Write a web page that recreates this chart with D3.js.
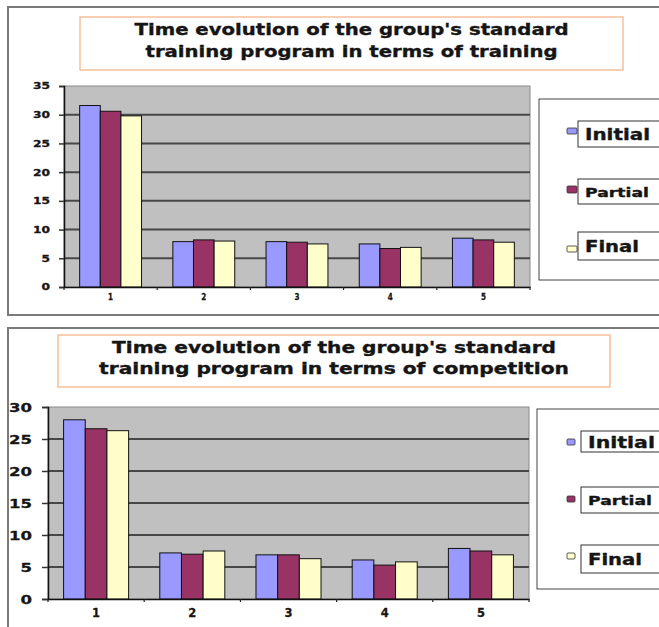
<!DOCTYPE html>
<html>
<head>
<meta charset="utf-8">
<script src="https://cdn.jsdelivr.net/npm/d3@7"></script>
<style>
  html, body { margin: 0; padding: 0; background: #ffffff; overflow: hidden; }
  svg { display: block; }
  text { font-family: "DejaVu Sans", Verdana, sans-serif; font-weight: bold; fill: #151515; }
</style>
</head>
<body>
<svg id="chart" width="659" height="627"></svg>
<script>
// ---------- DATA ----------
const categories = ["1", "2", "3", "4", "5"];
const seriesNames = ["Initial", "Partial", "Final"];
const seriesColors = ["#9999ff", "#993366", "#ffffcc"];

const trainingTitle = ["Time evolution of the group's standard", "training program in terms of training"];
const trainingInitial = [31.6, 7.9, 7.9, 7.5, 8.5];
const trainingPartial = [30.6, 8.2, 7.8, 6.7, 8.2];
const trainingFinal   = [29.8, 8.0, 7.5, 6.9, 7.8];
const trainingTicks   = [0, 5, 10, 15, 20, 25, 30, 35];

const competitionTitle = ["Time evolution of the group's standard", "training program in terms of competition"];
const competitionInitial = [28.0, 7.2, 6.9, 6.1, 7.9];
const competitionPartial = [26.6, 7.0, 6.9, 5.3, 7.5];
const competitionFinal   = [26.3, 7.5, 6.3, 5.8, 6.9];
const competitionTicks   = [0, 5, 10, 15, 20, 25, 30];

// ---------- LAYOUT ----------
const svg = d3.select("#chart");

function fit(sel, w) {
  sel.attr("textLength", w).attr("lengthAdjust", "spacingAndGlyphs");
}

function drawChart(cfg, values, ticks, titleLines) {
  const g = svg.append("g");

  // outer frame
  g.append("rect").attr("x", cfg.frame.x).attr("y", cfg.frame.y)
    .attr("width", cfg.frame.w).attr("height", cfg.frame.h)
    .attr("fill", "#ffffff").attr("stroke", "#7a7a7a").attr("stroke-width", 2);

  // title box
  g.append("rect").attr("x", cfg.titleBox.x).attr("y", cfg.titleBox.y)
    .attr("width", cfg.titleBox.w).attr("height", cfg.titleBox.h)
    .attr("fill", "#ffffff").attr("stroke", "#f7bf98").attr("stroke-width", 1.5);
  titleLines.forEach((t, i) => {
    const tl = cfg.titleLines[i];
    g.append("text").attr("x", cfg.titleBox.x + cfg.titleBox.w / 2)
      .attr("y", tl.base).attr("text-anchor", "middle")
      .attr("font-size", cfg.titleFont)
      .attr("stroke", "#151515").attr("stroke-width", 0.35)
      .text(t).call(fit, tl.w);
  });

  const p = cfg.plot;
  const yMax = ticks[ticks.length - 1];
  const y = d3.scaleLinear().domain([0, yMax]).range([p.y + p.h, p.y]);
  const x0 = d3.scaleBand().domain(categories).range([p.x, p.x + p.w]).padding(0);
  const bw = x0.bandwidth();
  const x1 = d3.scaleBand().domain(seriesNames)
    .range([bw * cfg.groupPad, bw * (1 - cfg.groupPad)]).padding(0);

  // plot background
  g.append("rect").attr("x", p.x).attr("y", p.y).attr("width", p.w).attr("height", p.h)
    .attr("fill", "#c0c0c0").attr("stroke", "#8a8a8a").attr("stroke-width", 1);

  // gridlines
  g.append("g").selectAll("line").data(ticks.filter(t => t > 0 && t < yMax)).join("line")
    .attr("x1", p.x).attr("x2", p.x + p.w)
    .attr("y1", d => y(d)).attr("y2", d => y(d))
    .attr("stroke", "#474747").attr("stroke-width", 2);

  // bars
  const rows = categories.map((c, i) => ({ c, vals: seriesNames.map((s, k) => ({ s, k, v: values[k][i] })) }));
  g.append("g").selectAll("g").data(rows).join("g")
    .attr("transform", d => `translate(${x0(d.c)},0)`)
    .selectAll("rect").data(d => d.vals).join("rect")
    .attr("x", d => x1(d.s)).attr("width", x1.bandwidth())
    .attr("y", d => y(d.v)).attr("height", d => y(0) - y(d.v))
    .attr("fill", d => seriesColors[d.k]).attr("stroke", "#111").attr("stroke-width", 1);

  // y axis
  const ya = g.append("g").attr("transform", `translate(${p.x},0)`)
    .call(d3.axisLeft(y).tickValues(ticks).tickSize(cfg.yTickLen).tickPadding(cfg.yPad));
  ya.select(".domain").attr("stroke", "#111").attr("stroke-width", 1.5);
  ya.selectAll(".tick line").attr("stroke", "#333").attr("stroke-width", 1.5);
  ya.selectAll(".tick text").attr("font-size", cfg.yFont).attr("fill", "#1a1a1a")
    .attr("font-family", "DejaVu Sans").attr("font-weight", "bold")
    .attr("stroke", "#1a1a1a").attr("stroke-width", cfg.yStroke)
    .each(function (d) { d3.select(this).call(fit, String(d).length * cfg.yDigitW); });

  // x axis (labels at band centers, ticks at band boundaries)
  const xa = g.append("g").attr("transform", `translate(0,${p.y + p.h})`)
    .call(d3.axisBottom(x0).tickSize(0).tickPadding(cfg.xPad));
  xa.select(".domain").attr("stroke", "#111").attr("stroke-width", 1.5);
  xa.selectAll(".tick text").attr("font-size", cfg.xFont).attr("fill", "#1a1a1a")
    .attr("font-family", "DejaVu Sans").attr("font-weight", "bold")
    .attr("stroke", "#1a1a1a").attr("stroke-width", cfg.yStroke)
    .each(function () { d3.select(this).call(fit, cfg.xDigitW); });
  const bounds = categories.map(c => x0(c)).concat([p.x + p.w]);
  g.append("g").selectAll("line").data(bounds).join("line")
    .attr("x1", d => d).attr("x2", d => d)
    .attr("y1", p.y + p.h).attr("y2", p.y + p.h + 3)
    .attr("stroke", "#222").attr("stroke-width", 1.2);

  // legend
  const L = cfg.legend;
  g.append("rect").attr("x", L.x).attr("y", L.y).attr("width", L.w).attr("height", L.h)
    .attr("fill", "#ffffff").attr("stroke", "#444").attr("stroke-width", 1);
  seriesNames.forEach((s, k) => {
    const it = L.items[k];
    g.append("rect").attr("x", L.boxX).attr("y", it.top).attr("width", 140).attr("height", it.bottom - it.top)
      .attr("fill", "#ffffff").attr("stroke", "#333").attr("stroke-width", 1);
    g.append("rect").attr("x", L.swX).attr("y", it.swY).attr("width", L.swW).attr("height", it.swH)
      .attr("rx", 1).attr("fill", seriesColors[k]).attr("stroke", "#333").attr("stroke-width", 0.8);
    g.append("text").attr("x", L.textX).attr("y", it.base)
      .attr("font-size", it.font)
      .attr("stroke", "#151515").attr("stroke-width", 0.35)
      .text(s).call(fit, it.tw);
  });
}

drawChart({
  frame: { x: 8, y: 7, w: 700, h: 308 },
  titleBox: { x: 80, y: 17, w: 543, h: 53 },
  titleLines: [{ base: 35, w: 434 }, { base: 57, w: 412 }],
  titleFont: 15,
  plot: { x: 64, y: 86, w: 466, h: 201 },
  groupPad: 0.168,
  yTickLen: 5, yPad: 9, yFont: 9, yDigitW: 8.5, yStroke: 0.3,
  xPad: 7, xFont: 9, xDigitW: 5,
  legend: {
    x: 539, y: 99, w: 200, h: 181, boxX: 578, textX: 585, swX: 567, swW: 10,
    items: [
      { top: 121, bottom: 147, swY: 128, swH: 6, base: 140, font: 15, tw: 65 },
      { top: 179, bottom: 204, swY: 186, swH: 7, base: 197, font: 13, tw: 64 },
      { top: 232, bottom: 260, swY: 246, swH: 6, base: 252, font: 15, tw: 54 }
    ]
  }
}, [trainingInitial, trainingPartial, trainingFinal], trainingTicks, trainingTitle);

drawChart({
  frame: { x: 8, y: 328, w: 700, h: 330 },
  titleBox: { x: 58, y: 335, w: 552, h: 52 },
  titleLines: [{ base: 353, w: 444 }, { base: 374, w: 470 }],
  titleFont: 15,
  plot: { x: 48, y: 407, w: 481, h: 192 },
  groupPad: 0.162,
  yTickLen: 6, yPad: 10, yFont: 13, yDigitW: 11.5, yStroke: 0.3,
  xPad: 9, xFont: 13, xDigitW: 8,
  legend: {
    x: 537, y: 409, w: 200, h: 180, boxX: 581, textX: 588, swX: 567, swW: 8,
    items: [
      { top: 431, bottom: 452, swY: 439, swH: 6, base: 448, font: 16, tw: 67 },
      { top: 487, bottom: 513, swY: 496, swH: 6, base: 505, font: 13, tw: 64 },
      { top: 545, bottom: 573, swY: 553, swH: 6, base: 565, font: 16, tw: 54 }
    ]
  }
}, [competitionInitial, competitionPartial, competitionFinal], competitionTicks, competitionTitle);
</script>
</body>
</html>
